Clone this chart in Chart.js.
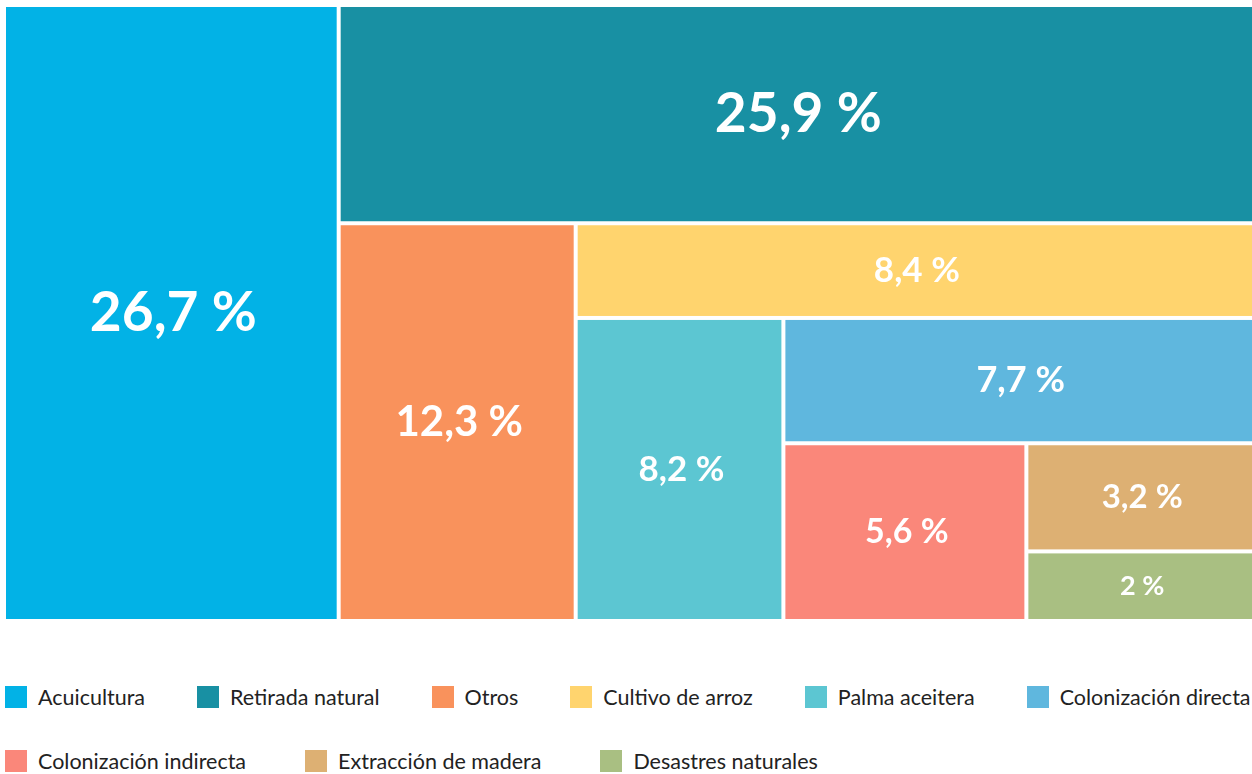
<!DOCTYPE html>
<html>
<head>
<meta charset="utf-8">
<script src="https://cdn.jsdelivr.net/npm/chart.js@4.4.1/dist/chart.umd.min.js"></script>
<style>
  body { margin: 0; background: #fff; font-family: Lato, sans-serif; overflow: hidden; }
  #wrap { width: 1252px; height: 622px; }
  #legend { padding-left: 5px; margin-top: 64px; }
  .row { display: flex; flex-wrap: nowrap; column-gap: 52px; margin-bottom: 42px; white-space: nowrap; }
  .row + .row { column-gap: 59px; }
  .item { display: flex; align-items: center; height: 22px; font-size: 21.5px; color: #222; }
  .box { width: 22px; height: 22px; margin-right: 11px; flex: none; }
</style>
</head>
<body>
<div id="wrap"><canvas id="myChart" width="1252" height="622"></canvas></div>
<div id="legend"></div>
<script>
const categories = ['Acuicultura', 'Retirada natural', 'Otros', 'Cultivo de arroz', 'Palma aceitera',
  'Colonización directa', 'Colonización indirecta', 'Extracción de madera', 'Desastres naturales'];
const shares = [26.7, 25.9, 12.3, 8.4, 8.2, 7.7, 5.6, 3.2, 2];
const colors = ['#02b2e6', '#1890a3', '#f9925c', '#ffd46e', '#5cc6d2', '#5fb7de', '#fa877a', '#ddb073', '#a9bf82'];
// font size of the label inside each tile
const labelSizes = [55, 55, 42, 35, 35, 36, 34, 33, 27];
const legendPerRow = 6;

// slice and dice: first a column, then a row, and so on
function layout(vals) {
  const rects = [];
  let x0 = 0, y0 = 0, x1 = 1, y1 = 1;
  let rest = vals.reduce((a, b) => a + b, 0);
  let vertical = true;
  for (let i = 0; i < vals.length; i++) {
    const f = i === vals.length - 1 ? 1 : vals[i] / rest;
    if (vertical) {
      const w = (x1 - x0) * f;
      rects.push({ x0: x0, y0: y0, x1: x0 + w, y1: y1 });
      x0 += w;
    } else {
      const h = (y1 - y0) * f;
      rects.push({ x0: x0, y0: y0, x1: x1, y1: y0 + h });
      y0 += h;
    }
    rest -= vals[i];
    vertical = !vertical;
  }
  return rects;
}

const treemapPlugin = {
  id: 'treemap',
  afterDatasetsDraw(chart) {
    const c = chart.ctx;
    const xs = chart.scales.x, ys = chart.scales.y;
    const gap = 2;
    layout(shares).forEach((r, i) => {
      let left = xs.getPixelForValue(r.x0), right = xs.getPixelForValue(r.x1);
      let top = ys.getPixelForValue(r.y0), bottom = ys.getPixelForValue(r.y1);
      if (r.x0 > 0) left += gap;
      if (r.x1 < 1) right -= gap;
      if (r.y0 > 0) top += gap;
      if (r.y1 < 1) bottom -= gap;
      c.save();
      c.fillStyle = colors[i];
      c.fillRect(left, top, right - left, bottom - top);
      c.fillStyle = '#fff';
      c.font = 'bold ' + labelSizes[i] + 'px Lato';
      c.textAlign = 'center';
      c.textBaseline = 'middle';
      c.fillText(String(shares[i]).replace('.', ',') + ' %', (left + right) / 2 + 2, (top + bottom) / 2);
      c.restore();
    });
  }
};

const ctx = document.getElementById('myChart');
new Chart(ctx, {
  type: 'scatter',
  data: { datasets: [{ data: [] }] },
  options: {
    responsive: false,
    animation: false,
    layout: { padding: { left: 6, top: 7, right: 0, bottom: 3 } },
    plugins: { legend: { display: false }, tooltip: { enabled: false } },
    scales: {
      x: { type: 'linear', min: 0, max: 1, display: false },
      y: { type: 'linear', min: 0, max: 1, reverse: true, display: false }
    }
  },
  plugins: [treemapPlugin]
});

const legend = document.getElementById('legend');
let row;
categories.forEach((name, i) => {
  if (i % legendPerRow === 0) {
    row = document.createElement('div');
    row.className = 'row';
    legend.appendChild(row);
  }
  const item = document.createElement('div');
  item.className = 'item';
  item.innerHTML = '<span class="box" style="background:' + colors[i] + '"></span><span>' + name + '</span>';
  row.appendChild(item);
});
</script>
</body>
</html>
